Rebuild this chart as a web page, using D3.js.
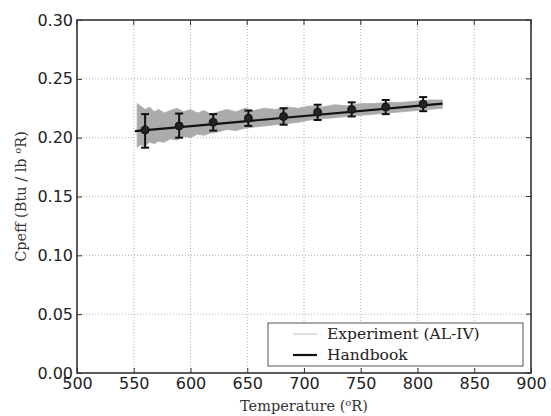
<!DOCTYPE html>
<html>
<head>
<meta charset="utf-8">
<script src="https://cdn.jsdelivr.net/npm/d3@7"></script>
<style>
  body { margin: 0; background: #fff; }
  .tick text { font-family: "DejaVu Sans", sans-serif; }
  .serif { font-family: "DejaVu Serif", serif; }
</style>
</head>
<body>
<svg id="chart" width="551" height="416"></svg>
<script>
// experiment band (grey noisy trace), envelope
const expTemp  = [553, 556, 560, 564, 568, 572, 577, 582, 588, 594, 600, 606, 612, 618, 625, 632, 640, 648, 656, 665, 675, 685, 695, 705, 716, 727, 738, 750, 762, 774, 786, 798, 810, 822];
const expUpper = [0.229, 0.227, 0.224, 0.226, 0.222, 0.224, 0.221, 0.223, 0.225, 0.222, 0.224, 0.221, 0.223, 0.220, 0.222, 0.224, 0.222, 0.225, 0.223, 0.225, 0.224, 0.226, 0.225, 0.227, 0.226, 0.228, 0.227, 0.229, 0.229, 0.230, 0.230, 0.231, 0.232, 0.232];
const expLower = [0.192, 0.194, 0.193, 0.196, 0.195, 0.197, 0.196, 0.199, 0.198, 0.201, 0.200, 0.203, 0.202, 0.204, 0.205, 0.207, 0.206, 0.208, 0.209, 0.210, 0.211, 0.212, 0.213, 0.215, 0.216, 0.217, 0.218, 0.219, 0.220, 0.221, 0.222, 0.223, 0.224, 0.225];

// handbook line
const bookTemp = [551, 822];
const bookCp   = [0.2055, 0.2290];

// error bar points
const barTemp = [560, 590, 620, 651, 682, 712, 742, 772, 805];
const barMid  = [0.2065, 0.2100, 0.2130, 0.2165, 0.2180, 0.2215, 0.2240, 0.2260, 0.2285];
const barLow  = [0.1915, 0.2000, 0.2060, 0.2100, 0.2110, 0.2150, 0.2180, 0.2200, 0.2225];
const barHigh = [0.2200, 0.2205, 0.2200, 0.2230, 0.2250, 0.2280, 0.2300, 0.2320, 0.2345];

const xTicks = [500, 550, 600, 650, 700, 750, 800, 850, 900];
const yTicks = [0, 0.05, 0.10, 0.15, 0.20, 0.25, 0.30];

const margin = {top: 20, right: 20, bottom: 43, left: 77};
const svg = d3.select("#chart");
const width = 551 - margin.left - margin.right;
const height = 416 - margin.top - margin.bottom;

const x = d3.scaleLinear().domain([500, 900]).range([0, width]);
const y = d3.scaleLinear().domain([0, 0.30]).range([height, 0]);

const g = svg.append("g")
    .attr("transform", "translate(" + margin.left + "," + margin.top + ")");

// dotted grid
g.append("g").selectAll("line").data(xTicks.slice(1, -1)).enter().append("line")
    .attr("x1", d => x(d)).attr("x2", d => x(d))
    .attr("y1", 0).attr("y2", height)
    .attr("stroke", "#b0b0b0").attr("stroke-width", 1).attr("stroke-dasharray", "1,2");
g.append("g").selectAll("line").data(yTicks.slice(1, -1)).enter().append("line")
    .attr("y1", d => y(d)).attr("y2", d => y(d))
    .attr("x1", 0).attr("x2", width)
    .attr("stroke", "#b0b0b0").attr("stroke-width", 1).attr("stroke-dasharray", "1,2");

// experiment band
let band = expTemp.map((t, i) => ({t: t, lo: expLower[i], hi: expUpper[i]}));
g.append("path")
    .datum(band)
    .attr("fill", "#ababab")
    .attr("stroke", "#ababab")
    .attr("stroke-width", 0.8)
    .attr("d", d3.area().x(d => x(d.t)).y0(d => y(d.lo)).y1(d => y(d.hi)));

// handbook line
g.append("path")
    .datum(bookTemp.map((t, i) => [t, bookCp[i]]))
    .attr("fill", "none")
    .attr("stroke", "#111")
    .attr("stroke-width", 2.2)
    .attr("d", d3.line().x(d => x(d[0])).y(d => y(d[1])));

// error bars
let bars = barTemp.map((t, i) => ({t: t, m: barMid[i], lo: barLow[i], hi: barHigh[i]}));
let eb = g.append("g").selectAll("g").data(bars).enter().append("g");
eb.append("line")
    .attr("x1", d => x(d.t)).attr("x2", d => x(d.t))
    .attr("y1", d => y(d.lo)).attr("y2", d => y(d.hi))
    .attr("stroke", "#111").attr("stroke-width", 2);
eb.append("line")
    .attr("x1", d => x(d.t) - 4).attr("x2", d => x(d.t) + 4)
    .attr("y1", d => y(d.lo)).attr("y2", d => y(d.lo))
    .attr("stroke", "#111").attr("stroke-width", 2);
eb.append("line")
    .attr("x1", d => x(d.t) - 4).attr("x2", d => x(d.t) + 4)
    .attr("y1", d => y(d.hi)).attr("y2", d => y(d.hi))
    .attr("stroke", "#111").attr("stroke-width", 2);
eb.append("circle")
    .attr("cx", d => x(d.t)).attr("cy", d => y(d.m))
    .attr("r", 4).attr("fill", "#222").attr("stroke", "#111");

// axes
let xAxis = d3.axisBottom(x).tickValues(xTicks).tickSize(-5).tickPadding(6).tickFormat(d3.format("d"));
let yAxis = d3.axisLeft(y).tickValues(yTicks).tickSize(-5).tickPadding(4).tickFormat(d3.format(".2f"));

let xg = g.append("g").attr("transform", "translate(0," + height + ")").call(xAxis);
let yg = g.append("g").call(yAxis);
[xg, yg].forEach(a => {
    a.select(".domain").remove();
    a.selectAll(".tick line").attr("stroke", "#333");
    a.selectAll(".tick text").attr("fill", "#222").style("font-size", "16px");
});
xg.selectAll(".tick text").attr("dy", "0.6em");
yg.selectAll(".tick text").attr("dy", "0.32em");

// top/right ticks
g.append("g").selectAll("line").data(xTicks).enter().append("line")
    .attr("x1", d => x(d)).attr("x2", d => x(d)).attr("y1", 0).attr("y2", 5)
    .attr("stroke", "#333");
g.append("g").selectAll("line").data(yTicks).enter().append("line")
    .attr("x1", width).attr("x2", width - 5).attr("y1", d => y(d)).attr("y2", d => y(d))
    .attr("stroke", "#333");

// frame
g.append("rect")
    .attr("width", width).attr("height", height)
    .attr("fill", "none").attr("stroke", "#333").attr("stroke-width", 1.6);

// legend
let lg = g.append("g").attr("transform", "translate(" + (268 - margin.left) + "," + (323 - margin.top) + ")");
lg.append("rect")
    .attr("width", 255).attr("height", 43)
    .attr("fill", "#fff").attr("stroke", "#555").attr("stroke-width", 1);
let legendItems = [{label: "Experiment (AL-IV)", color: "#c8c8c8", w: 1.2}, {label: "Handbook", color: "#111", w: 2.2}];
legendItems.forEach((it, i) => {
    let yy = 11 + i * 21;
    lg.append("line").attr("x1", 25).attr("x2", 49).attr("y1", yy).attr("y2", yy)
        .attr("stroke", it.color).attr("stroke-width", it.w);
    lg.append("text").attr("class", "serif").attr("x", 59).attr("y", yy).attr("dy", "0.35em")
        .style("font-size", "15.5px")
        .attr("fill", "#222").text(it.label);
});

// axis labels
let xl = svg.append("text").attr("class", "serif")
    .attr("x", margin.left + width / 2).attr("y", 411)
    .attr("text-anchor", "middle")
    .style("font-size", "14.5px").attr("fill", "#333");
xl.append("tspan").text("Temperature (");
xl.append("tspan").attr("baseline-shift", "super").style("font-size", "10px").text("o");
xl.append("tspan").text("R)");

let yl = svg.append("text").attr("class", "serif")
    .attr("transform", "translate(26," + (margin.top + height / 2) + ") rotate(-90)")
    .attr("text-anchor", "middle")
    .style("font-size", "14.5px").attr("fill", "#333");
yl.append("tspan").text("Cpeff (Btu / lb ");
yl.append("tspan").attr("baseline-shift", "super").style("font-size", "10px").text("o");
yl.append("tspan").text("R)");
</script>
</body>
</html>
